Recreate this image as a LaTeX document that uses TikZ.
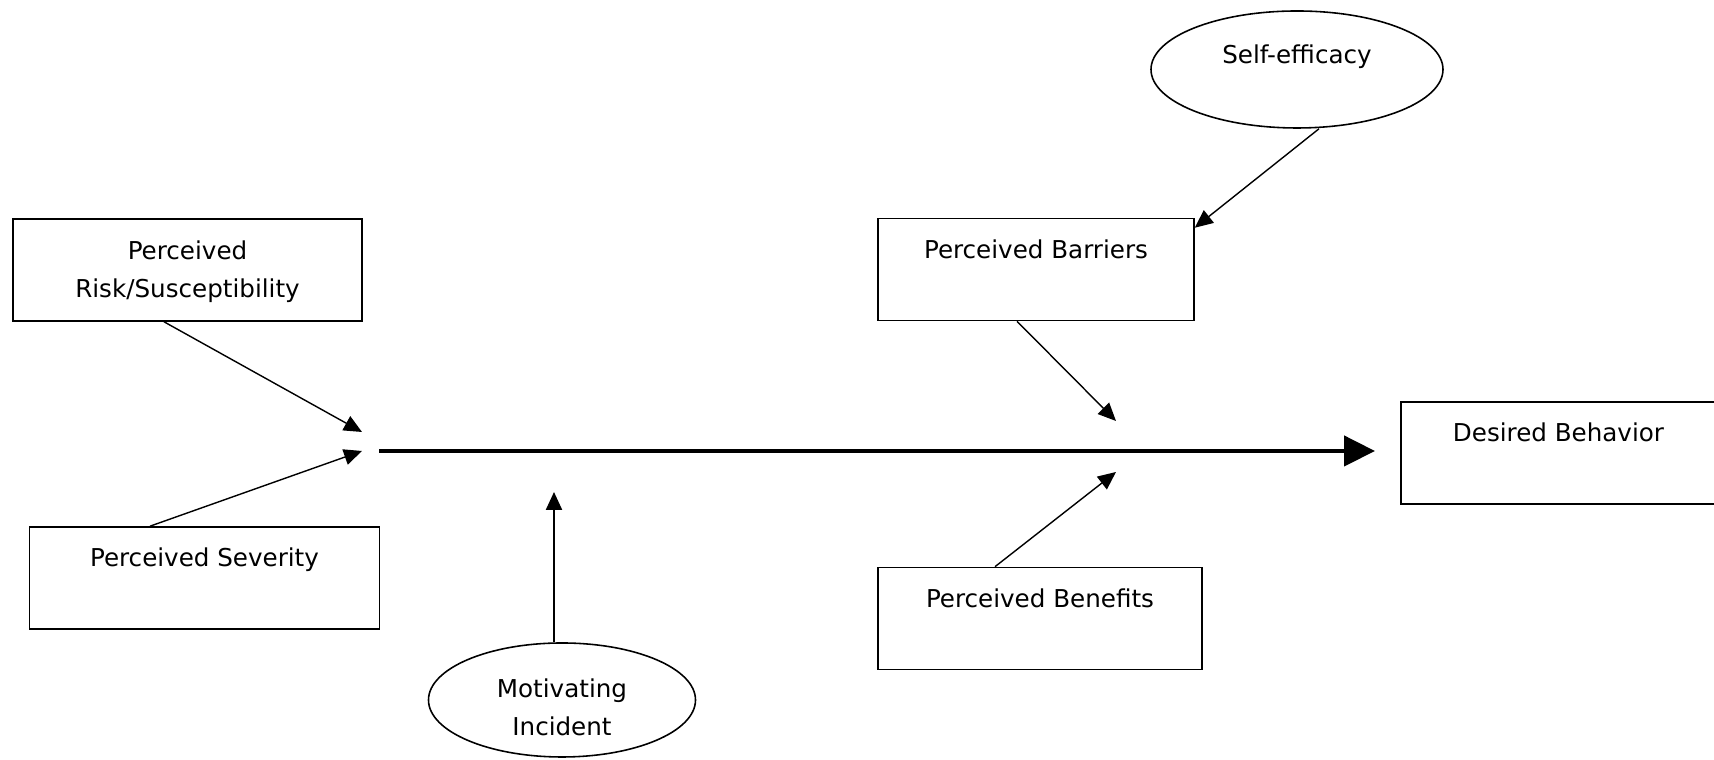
\documentclass[tikz,border=0pt]{standalone}
\usepackage{fontspec}
\setmainfont{DejaVu Sans}
\usepackage{tikz}
\usetikzlibrary{arrows.meta,positioning,calc,shapes.geometric}

\begin{document}
\begin{tikzpicture}[
  box/.style={draw, line width=0.45pt, inner sep=0pt, align=center,
    text height=0.40cm, text depth=0.62cm, minimum height=1.02cm},
  oval/.style={draw, ellipse, line width=0.45pt, inner sep=0pt, align=center},
  thin/.style={-{Triangle[length=0.18cm,width=0.16cm]}, line width=0.4pt},
  font=\fontsize{7pt}{11pt}\selectfont
]
\useasboundingbox (0,0) rectangle (17.14,7.60);

% Perceived factors on the left
\node[box, minimum width=3.49cm, text height=0.79cm, text depth=0.23cm]
  (risk) at (1.875,4.90) {Perceived\\Risk/Susceptibility};
\node[box, minimum width=3.50cm] (severity) at (2.045,1.82)
  {Perceived Severity};

% Perceived factors on the right
\node[box, minimum width=3.16cm] (barriers) at (10.36,4.905)
  {Perceived Barriers};
\node[box, minimum width=3.24cm] (benefits) at (10.40,1.415)
  {Perceived Benefits};

% Outcome
\node[box, minimum width=3.15cm] (behavior) at (15.585,3.07)
  {Desired Behavior};

% Ovals
\node[oval, minimum width=2.92cm, minimum height=1.17cm,
  text height=0.2cm, text depth=0.31cm] (efficacy) at (12.97,6.905)
  {Self-efficacy};
\node[oval, minimum width=2.67cm, minimum height=1.14cm,
  text height=0.74cm, text depth=0.02cm] (incident) at (5.62,0.60)
  {Motivating\\Incident};

% Points on the main line
\coordinate (start) at (3.79,3.09);
\coordinate (goal) at (13.75,3.09);
\coordinate (risktip) at (3.62,3.28);
\coordinate (sevtip) at (3.62,3.09);
\coordinate (bartip) at (11.16,3.39);
\coordinate (bentip) at (11.16,2.88);
\coordinate (inctip) at (5.54,2.68);

% Main path
\draw[-{Triangle[length=0.31cm,width=0.30cm]}, line width=1.3pt]
  (start) -- (goal);

% Arrows
\draw[thin] ([xshift=-0.235cm]risk.south) -- (risktip);
\draw[thin] ([xshift=-0.545cm]severity.north) -- (sevtip);
\draw[thin] ([xshift=-0.19cm]barriers.south) -- (bartip);
\draw[thin] ([xshift=-0.45cm]benefits.north) -- (bentip);
\draw[thin] ([xshift=0.22cm]efficacy.south) -- ([yshift=-0.1cm]barriers.north east);
\draw[thin, line width=0.65pt] ([xshift=-0.08cm]incident.north) -- (inctip);
\end{tikzpicture}
\end{document}
